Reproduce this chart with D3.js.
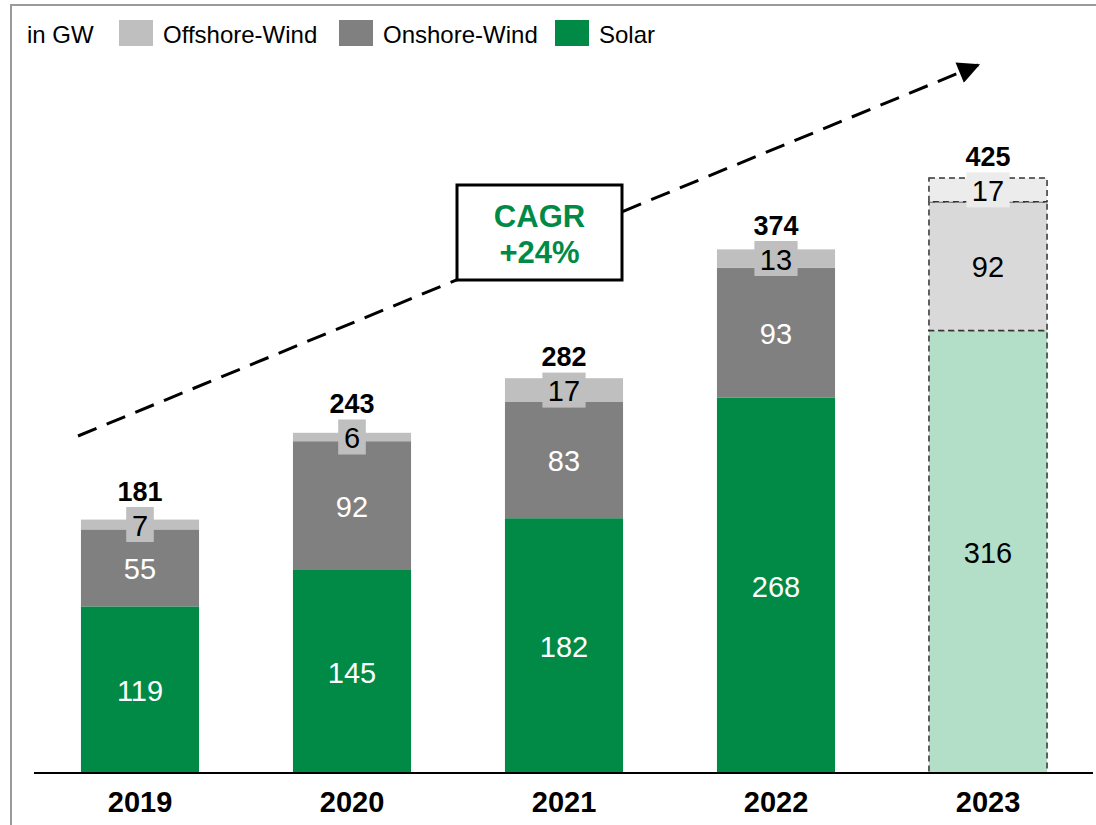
<!DOCTYPE html>
<html>
<head>
<meta charset="utf-8">
<script src="https://cdn.jsdelivr.net/npm/d3@7"></script>
<style>
  body { margin: 0; background: #fff; }
  text { font-family: "Liberation Sans", Arial, sans-serif; }
</style>
</head>
<body>
<div id="chart"></div>
<script>
// data
var years = ["2019", "2020", "2021", "2022", "2023"];
var solar = [119, 145, 182, 268, 316];
var onshore = [55, 92, 83, 93, 92];
var offshore = [7, 6, 17, 13, 17];
var totals = [181, 243, 282, 374, 425];
var seriesNames = ["Offshore-Wind", "Onshore-Wind", "Solar"];
var cagrLabel = ["CAGR", "+24%"];
var forecastYear = "2023";

var width = 1096, height = 825;
var colors = {solar: "#008a45", onshore: "#808080", offshore: "#bfbfbf"};
var lightColors = {solar: "#b3dec8", onshore: "#d9d9d9", offshore: "#ececec"};

var svg = d3.select("#chart").append("svg")
  .attr("width", width)
  .attr("height", height);

// frame
svg.append("path")
  .attr("d", "M11,825 V5 H1096")
  .attr("fill", "none")
  .attr("stroke", "#9a9a9a")
  .attr("stroke-width", 2);

var x = d3.scaleBand()
  .domain(years)
  .range([34, 1094])
  .paddingInner(0.443)
  .paddingOuter(0.2215);

var y = d3.scaleLinear().domain([0, 425]).range([773, 178]);

// stacked data
var rows = years.map(function(yr, i) {
  return {year: yr, solar: solar[i], onshore: onshore[i], offshore: offshore[i], total: totals[i]};
});
var stack = d3.stack().keys(["solar", "onshore", "offshore"])(rows);

// arrow + CAGR box (behind bars)
svg.append("defs").append("marker")
  .attr("id", "arrow")
  .attr("viewBox", "0 0 10 10")
  .attr("refX", 9).attr("refY", 5)
  .attr("markerUnits", "userSpaceOnUse")
  .attr("orient", "auto")
  .attr("markerWidth", 26).attr("markerHeight", 22)
  .append("path")
  .attr("d", "M0,0 L10,5 L0,10 Z")
  .attr("fill", "#000");

svg.append("line")
  .attr("x1", 78).attr("y1", 436)
  .attr("x2", 978).attr("y2", 65)
  .attr("stroke", "#000")
  .attr("stroke-width", 3)
  .attr("stroke-dasharray", "20,11")
  .attr("marker-end", "url(#arrow)");

svg.append("rect")
  .attr("x", 457).attr("y", 185)
  .attr("width", 165).attr("height", 95)
  .attr("fill", "#fff")
  .attr("stroke", "#000")
  .attr("stroke-width", 3);

svg.selectAll(".cagr")
  .data(cagrLabel)
  .enter().append("text")
  .attr("x", 539.5)
  .attr("y", function(d, i) { return 227 + i * 36; })
  .attr("text-anchor", "middle")
  .attr("font-size", 31)
  .attr("font-weight", "bold")
  .attr("fill", colors.solar)
  .text(function(d) { return d; });

// bars
stack.forEach(function(layer) {
  var key = layer.key;
  svg.selectAll(".bar-" + key)
    .data(layer)
    .enter().append("rect")
    .attr("x", function(d) { return x(d.data.year); })
    .attr("width", x.bandwidth())
    .attr("y", function(d) { return y(d[1]); })
    .attr("height", function(d) { return y(d[0]) - y(d[1]); })
    .attr("fill", function(d) { return d.data.year === forecastYear ? lightColors[key] : colors[key]; })
    .attr("stroke", function(d) { return d.data.year === forecastYear ? "#333" : "none"; })
    .attr("stroke-width", 1.5)
    .attr("stroke-dasharray", "6,4");
});

// value labels
stack.forEach(function(layer) {
  var key = layer.key;
  var g = svg.selectAll(".lbl-" + key)
    .data(layer)
    .enter().append("g");
  if (key === "offshore") {
    g.append("rect")
      .attr("x", function(d) {
        var w = String(d.data.offshore).length * 15.6 + 12;
        return x(d.data.year) + x.bandwidth() / 2 - w / 2;
      })
      .attr("width", function(d) { return String(d.data.offshore).length * 15.6 + 12; })
      .attr("y", function(d) { return (y(d[0]) + y(d[1])) / 2 - 17.5; })
      .attr("height", 35)
      .attr("fill", function(d) { return d.data.year === forecastYear ? lightColors.offshore : colors.offshore; });
  }
  g.append("text")
    .attr("x", function(d) { return x(d.data.year) + x.bandwidth() / 2; })
    .attr("y", function(d) { return (y(d[0]) + y(d[1])) / 2 + 1; })
    .attr("dy", "0.35em")
    .attr("text-anchor", "middle")
    .attr("font-size", 29)
    .attr("fill", function(d) {
      if (key === "offshore" || d.data.year === forecastYear) return "#000";
      return "#fff";
    })
    .text(function(d) { return d.data[key]; });
});

// totals
svg.selectAll(".total")
  .data(stack[2])
  .enter().append("text")
  .attr("x", function(d) { return x(d.data.year) + x.bandwidth() / 2; })
  .attr("y", function(d) { return (y(d[0]) + y(d[1])) / 2 - 24; })
  .attr("text-anchor", "middle")
  .attr("font-size", 27)
  .attr("font-weight", "bold")
  .attr("fill", "#000")
  .text(function(d) { return d.data.total; });

// x axis
var xAxis = svg.append("g")
  .attr("transform", "translate(0,773)")
  .call(d3.axisBottom(x).tickSize(0).tickPadding(18));
xAxis.select(".domain")
  .attr("d", "M34,0 H1093")
  .attr("stroke", "#000")
  .attr("stroke-width", 2);
xAxis.selectAll("text")
  .attr("font-family", "Liberation Sans, Arial, sans-serif")
  .attr("font-size", 29)
  .attr("font-weight", "bold")
  .attr("fill", "#000");

// legend
var legend = svg.append("g");
legend.append("text")
  .attr("x", 27).attr("y", 43)
  .attr("font-size", 24)
  .text("in GW");
var legendX = [119, 339, 555];
var legendColors = [colors.offshore, colors.onshore, colors.solar];
var li = legend.selectAll(".li")
  .data(seriesNames)
  .enter().append("g");
li.append("rect")
  .attr("x", function(d, i) { return legendX[i]; })
  .attr("y", 20)
  .attr("width", 34).attr("height", 26)
  .attr("fill", function(d, i) { return legendColors[i]; });
li.append("text")
  .attr("x", function(d, i) { return legendX[i] + 44; })
  .attr("y", 43)
  .attr("font-size", 24)
  .attr("fill", "#000")
  .text(function(d) { return d; });
</script>
</body>
</html>
